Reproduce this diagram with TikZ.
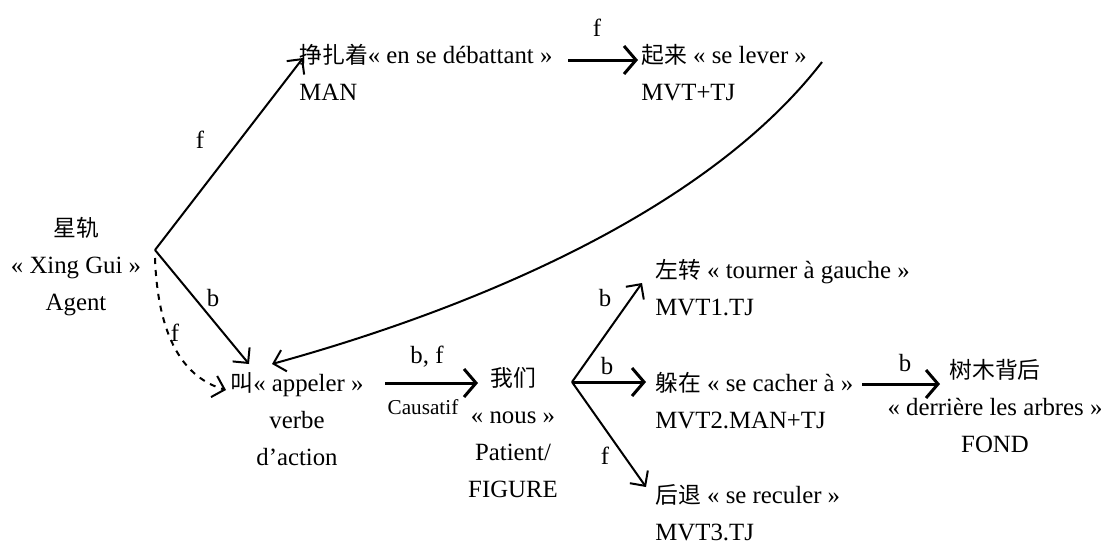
\documentclass[tikz,border=0pt]{standalone}
\usepackage{fontspec}
\setmainfont{Liberation Serif}
\newfontfamily\cjk{Noto Sans CJK SC}[Scale=0.92]
\usetikzlibrary{arrows.meta}
\newcommand{\zh}[1]{{\cjk #1}}
\tikzset{
  lbl/.style={font=\fontsize{12.4}{18.5}\selectfont,inner sep=0pt},
  blockL/.style={lbl,align=left,anchor=north west},
  blockC/.style={lbl,align=center,anchor=north},
  tag/.style={font=\fontsize{12.4}{14}\selectfont,inner sep=1pt},
  small/.style={font=\fontsize{10.6}{12}\selectfont,inner sep=1pt},
  link/.style={-{Straight Barb[length=5.5pt,width=11pt]},line width=1pt},
  flow/.style={-{Straight Barb[length=6pt,width=14pt]},line width=1.5pt},
  dashlink/.style={link,dashed}
}

\begin{document}
\begin{tikzpicture}[x=0.5pt,y=-0.5pt]
  \useasboundingbox (0,0) rectangle (1115,543);
  % words
  \node[lbl,align=center] (agent) at (76,267) {\zh{星轨}\\« Xing Gui »\\Agent};
  \node[blockL] (man) at (299,44) {\zh{挣扎着}« en se débattant »\\MAN};
  \node[blockL] (lever) at (641,44) {\zh{起来} « se lever »\\MVT+TJ};
  \node[blockC] (appel) at (297,372) {\zh{叫}« appeler »\\verbe\\d’action};
  \node[blockC] (nous) at (513,367) {\zh{我们}\\« nous »\\Patient/\\FIGURE};
  \node[blockL] (tourner) at (655,259) {\zh{左转} « tourner à gauche »\\MVT1.TJ};
  \node[blockL] (cacher) at (655,372) {\zh{躲在} « se cacher à »\\MVT2.MAN+TJ};
  \node[blockL] (reculer) at (655,484) {\zh{后退} « se reculer »\\MVT3.TJ};
  \node[blockC] (arbres) at (995,359) {\zh{树木背后}\\« derrière les arbres »\\FOND};
  % connector ends
  \coordinate (ag) at (155,250);
  \coordinate (agd) at (155,258);
  \coordinate (manin) at (303,58);
  \coordinate (manout) at (568,60);
  \coordinate (levin) at (638,60);
  \coordinate (levout) at (822,62);
  \coordinate (appin) at (249,364);
  \coordinate (appin2) at (272,364);
  \coordinate (appin3) at (226,390);
  \coordinate (appout) at (385,383);
  \coordinate (nousin) at (478,383);
  \coordinate (nousout) at (572,382);
  \coordinate (tourin) at (642,283);
  \coordinate (cachin) at (646,382);
  \coordinate (reculin) at (646,487);
  \coordinate (cachout) at (862,384);
  \coordinate (arbin) at (940,384);
  % arrows
  \draw[link] (ag) -- (manin);
  \draw[link] (ag) -- (appin);
  \draw[dashlink] (agd) .. controls (158,340) and (185,378) .. (appin3);
  \draw[flow] (manout) -- (levin);
  \draw[link] (levout) .. controls (700,220) and (450,315) .. (appin2);
  \draw[flow] (appout) -- (nousin);
  \draw[link] (nousout) -- (tourin);
  \draw[flow] (nousout) -- (cachin);
  \draw[link] (nousout) -- (reculin);
  \draw[flow] (cachout) -- (arbin);
  % labels
  \node[tag] (lf1) at (200,140) {f};
  \node[tag] (lb1) at (213,298) {b};
  \node[tag] (lf2) at (175,333) {f};
  \node[tag] (lf3) at (597,28) {f};
  \node[tag] (lbf) at (427,357) {b, f};
  \node[small] (lcaus) at (423,407) {Causatif};
  \node[tag] (lb2) at (605,298) {b};
  \node[tag] (lb3) at (607,366) {b};
  \node[tag] (lf4) at (605,456) {f};
  \node[tag] (lb4) at (905,363) {b};
\end{tikzpicture}
\end{document}
